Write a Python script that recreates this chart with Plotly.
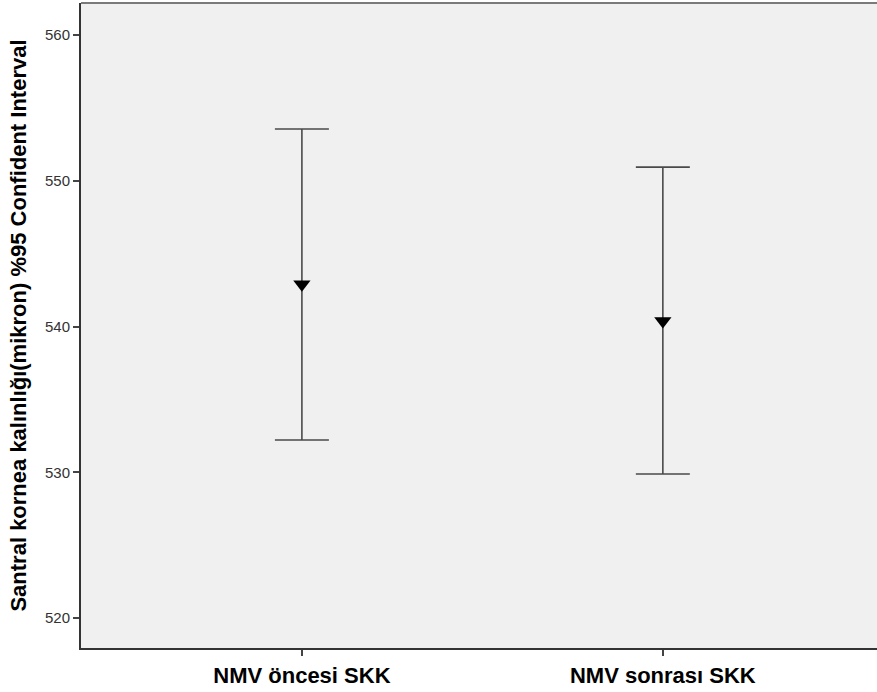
import plotly.graph_objects as go

categories = ["NMV öncesi SKK", "NMV sonrası SKK"]
means = [542.9, 540.38]
upper = [553.55, 550.94]
lower = [532.21, 529.88]
y_ticks = [520, 530, 540, 550, 560]

x_pos = list(range(len(categories)))
err_plus = [u - m for u, m in zip(upper, means)]
err_minus = [m - l for m, l in zip(means, lower)]

fig = go.Figure()
fig.add_trace(go.Scatter(
    x=x_pos, y=means, mode="markers",
    marker=dict(symbol="triangle-down", size=15, color="black"),
    error_y=dict(type="data", symmetric=False, array=err_plus, arrayminus=err_minus,
                 color="#4a4a4a", thickness=1.6, width=27),
    showlegend=False,
))

fig.add_shape(type="line", xref="paper", yref="paper", x0=0, x1=1, y0=1, y1=1,
              line=dict(color="#7a7a7a", width=2))

fig.update_layout(
    width=887, height=692,
    margin=dict(l=81, r=0, t=3, b=44),
    paper_bgcolor="white", plot_bgcolor="#f0f0f0",
    font=dict(family="Liberation Sans, Arial, sans-serif", color="#333333"),
    xaxis=dict(
        range=[-0.612, 1.621], tickvals=x_pos,
        ticktext=["<b>%s</b>" % c for c in categories],
        showgrid=False, zeroline=False, showline=True, linecolor="#333333", linewidth=2,
        ticks="outside", ticklen=6, tickcolor="#444444", tickwidth=1.5,
        tickfont=dict(size=22, color="black", family="Liberation Sans, Arial, sans-serif"),
        ticklabelstandoff=1,
    ),
    yaxis=dict(
        range=[517.94, 562.2], tickvals=y_ticks,
        showgrid=False, zeroline=False, showline=True, linecolor="#333333", linewidth=2,
        ticks="outside", ticklen=6, tickcolor="#444444", tickwidth=1.5,
        tickfont=dict(size=15, color="#333333"),
        title=dict(text="<b>Santral kornea kalınlığı(mikron) %95 Confident Interval</b>",
                   font=dict(size=22, color="black"), standoff=12),
    ),
)

fig.write_html("out.html", config={"displayModeBar": False},
               post_script="document.body.style.margin='0';document.body.style.padding='0';document.body.style.overflow='hidden';")
